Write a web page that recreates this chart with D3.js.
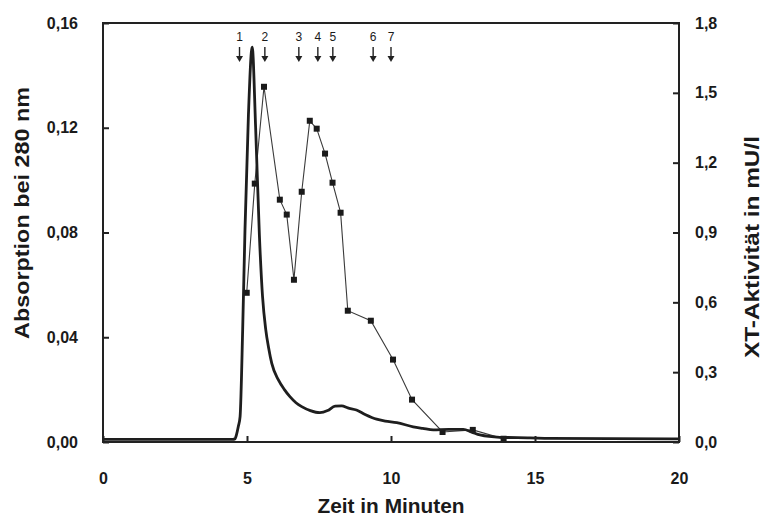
<!doctype html>
<html lang="de">

<head>
    <meta charset="UTF-8" />
    <script src="https://d3js.org/d3.v7.min.js"></script>
    <title>Absorption und XT-Aktivität</title>
    <style>
        body { margin: 0; background: #fff; }
        svg text { font-family: "Liberation Sans", Arial, sans-serif; fill: #1a1a1a; }
    </style>
</head>

<body>
    <div id="chart"></div>
    <script>
        // Absorption bei 280 nm (Zeit in min, Wert)
        const absTime = [0, 4.5, 4.58, 4.64, 4.7, 4.76, 4.85, 4.93, 5.05, 5.18, 5.3, 5.43, 5.54, 5.65, 5.75, 5.86,
            6.09, 6.3, 6.49, 6.7, 6.9, 7.2, 7.53, 7.8, 8.06, 8.29, 8.5, 8.8, 9.1, 9.5, 9.8, 10.2, 10.77, 11.1,
            11.47, 12.0, 12.51, 12.8, 13.09, 13.78, 14.83, 15.5, 20]
        const absValue = [0.001, 0.001, 0.0012, 0.003, 0.006, 0.0097, 0.043, 0.081, 0.125, 0.1508, 0.12, 0.079,
            0.0555, 0.043, 0.036, 0.030, 0.0237, 0.020, 0.0173, 0.015, 0.0135, 0.012, 0.0112, 0.012, 0.0137,
            0.0138, 0.013, 0.0122, 0.0105, 0.0087, 0.008, 0.0074, 0.0058, 0.0052, 0.0046, 0.0048, 0.0048,
            0.0038, 0.0027, 0.0018, 0.0016, 0.0014, 0.0012]

        // XT-Aktivität in mU/l
        const actTime = [4.99, 5.27, 5.59, 6.14, 6.38, 6.63, 6.90, 7.18, 7.42, 7.71, 7.97, 8.25, 8.50, 9.30,
            10.07, 10.73, 11.79, 12.84, 13.91]
        const actValue = [0.641, 1.110, 1.526, 1.041, 0.977, 0.697, 1.075, 1.380, 1.346, 1.239, 1.114, 0.985,
            0.564, 0.521, 0.354, 0.182, 0.043, 0.052, 0.014]

        // Fraktionsmarken
        const fracTime = [4.74, 5.62, 6.8, 7.46, 7.98, 9.38, 10.0]
        const fracLabel = ["1", "2", "3", "4", "5", "6", "7"]

        const xTicks = [0, 5, 10, 15, 20]
        const yLeftTicks = [0, 0.04, 0.08, 0.12, 0.16]
        const yRightTicks = [0, 0.3, 0.6, 0.9, 1.2, 1.5, 1.8]

        const W = 764, H = 518
        const margin = { top: 23, right: 85, bottom: 76, left: 103 }
        const width = W - margin.left - margin.right
        const height = H - margin.top - margin.bottom

        const comma = f => v => d3.format(f)(v).replace(".", ",")

        const x = d3.scaleLinear().domain([0, 20]).range([0, width])
        const yL = d3.scaleLinear().domain([0, 0.16]).range([height, 0])
        const yR = d3.scaleLinear().domain([0, 1.8]).range([height, 0])

        const svg = d3.select("#chart").append("svg")
            .attr("width", W)
            .attr("height", H)
            .append("g")
            .attr("transform", `translate(${margin.left},${margin.top})`)

        // Activity line + squares
        const actData = actTime.map((t, i) => ({ t, v: actValue[i] }))
        svg.append("path")
            .datum(actData)
            .attr("fill", "none")
            .attr("stroke", "#3a3a3a")
            .attr("stroke-width", 1.1)
            .attr("d", d3.line().x(d => x(d.t)).y(d => yR(d.v)))

        svg.selectAll("rect.pt")
            .data(actData)
            .enter()
            .append("rect")
            .attr("class", "pt")
            .attr("x", d => x(d.t) - 3)
            .attr("y", d => yR(d.v) - 3)
            .attr("width", 6)
            .attr("height", 6)
            .attr("fill", "#1a1a1a")

        // Absorption trace
        const absData = absTime.map((t, i) => ({ t, v: absValue[i] }))
        svg.append("path")
            .datum(absData)
            .attr("fill", "none")
            .attr("stroke", "#1e1e1e")
            .attr("stroke-width", 2.8)
            .attr("stroke-linejoin", "round")
            .attr("d", d3.line().curve(d3.curveMonotoneX).x(d => x(d.t)).y(d => yL(d.v)))

        // Frame box
        svg.append("rect")
            .attr("width", width)
            .attr("height", height)
            .attr("fill", "none")
            .attr("stroke", "#222")
            .attr("stroke-width", 2)

        // Axes (ticks pointing inside)
        const xAxis = svg.append("g")
            .attr("transform", `translate(0,${height})`)
            .call(d3.axisBottom(x).tickValues(xTicks).tickSize(-6).tickPadding(31).tickFormat(d3.format("d")))
        const yAxisL = svg.append("g")
            .call(d3.axisLeft(yL).tickValues(yLeftTicks).tickSize(-6).tickPadding(25).tickFormat(comma(".2f")))
        const yAxisR = svg.append("g")
            .attr("transform", `translate(${width},0)`)
            .call(d3.axisRight(yR).tickValues(yRightTicks).tickSize(-6).tickPadding(16).tickFormat(comma(".1f")))

        for (const a of [xAxis, yAxisL, yAxisR]) {
            a.select(".domain").remove()
            a.selectAll(".tick line").attr("stroke", "#222").attr("stroke-width", 2)
            a.selectAll(".tick text")
                .attr("font-size", "16px")
                .attr("font-weight", "bold")
                .attr("fill", "#1a1a1a")
        }

        // Fraction arrows
        const frac = svg.selectAll("g.frac")
            .data(fracTime)
            .enter()
            .append("g")
            .attr("class", "frac")
            .attr("transform", d => `translate(${x(d)},0)`)
        frac.append("text")
            .attr("y", 18)
            .attr("text-anchor", "middle")
            .attr("font-size", "12px")
            .text((d, i) => fracLabel[i])
        frac.append("line")
            .attr("y1", 24)
            .attr("y2", 34)
            .attr("stroke", "#222")
            .attr("stroke-width", 1.4)
        frac.append("path")
            .attr("d", "M-3.5,33 L3.5,33 L0,39 Z")
            .attr("fill", "#222")

        // Axis titles
        svg.append("text")
            .attr("x", width / 2)
            .attr("y", height + 71)
            .attr("text-anchor", "middle")
            .attr("font-size", "21px")
            .attr("font-weight", "bold")
            .attr("textLength", 147)
            .attr("lengthAdjust", "spacingAndGlyphs")
            .text("Zeit in Minuten")

        svg.append("text")
            .attr("transform", `translate(${21 - margin.left},${213 - margin.top}) rotate(-90)`)
            .attr("text-anchor", "middle")
            .attr("dominant-baseline", "central")
            .attr("font-size", "21px")
            .attr("font-weight", "bold")
            .attr("textLength", 252)
            .attr("lengthAdjust", "spacingAndGlyphs")
            .text("Absorption bei 280 nm")

        svg.append("text")
            .attr("transform", `translate(${751 - margin.left},${247 - margin.top}) rotate(-90)`)
            .attr("text-anchor", "middle")
            .attr("dominant-baseline", "central")
            .attr("font-size", "21px")
            .attr("font-weight", "bold")
            .attr("textLength", 222)
            .attr("lengthAdjust", "spacingAndGlyphs")
            .text("XT-Aktivität in mU/l")
    </script>
</body>

</html>
